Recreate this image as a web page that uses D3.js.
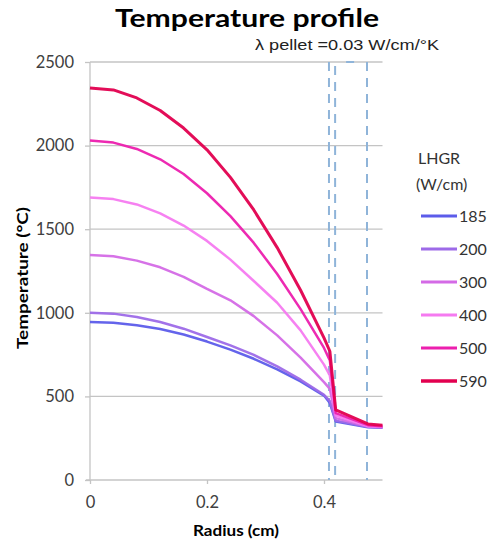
<!DOCTYPE html>
<html><head><meta charset="utf-8">
<script src="https://cdn.jsdelivr.net/npm/d3@7"></script>
<style>body{margin:0;background:#fff;}svg{display:block;}</style>
</head><body><svg id="c" width="487" height="549"></svg>
<script>
const radius = [0, 0.04, 0.08, 0.12, 0.16, 0.20, 0.24, 0.28, 0.32, 0.36, 0.40, 0.41, 0.42, 0.475, 0.5];
const seriesNames = ["185", "200", "300", "400", "500", "590"];
const t185 = [945, 940, 925, 903, 870, 828, 780, 725, 662, 590, 505, 460, 350, 316, 312];
const t200 = [1000, 995, 975, 945, 905, 855, 805, 748, 680, 600, 510, 472, 355, 318, 314];
const t300 = [1345, 1338, 1312, 1272, 1215, 1143, 1075, 980, 865, 732, 585, 545, 370, 320, 316];
const t400 = [1690, 1680, 1648, 1595, 1522, 1430, 1318, 1190, 1060, 895, 690, 625, 385, 322, 318];
const t500 = [2030, 2018, 1980, 1918, 1830, 1715, 1578, 1418, 1232, 1022, 790, 715, 400, 328, 322];
const t590 = [2345, 2333, 2285, 2210, 2105, 1975, 1810, 1615, 1390, 1135, 850, 770, 420, 335, 328];
const seriesValues = [t185, t200, t300, t400, t500, t590];
const colors = ["#5c5cea", "#9d6ae8", "#d46ae6", "#f57af0", "#ec1fae", "#e2004f"];
const yTicks = [0, 500, 1000, 1500, 2000, 2500];
const xTicks = [0, 0.2, 0.4];
const xTickLabels = ["0", "0.2", "0.4"];
const boundaries = [0.4085, 0.419, 0.4735];

const svg = d3.select("#c");
const x = d3.scaleLinear().domain([0, 0.5]).range([90, 382.5]);
const y = d3.scaleLinear().domain([0, 2500]).range([480, 62]);
const FONT = "Lato, 'Open Sans', sans-serif";

// gridlines
svg.append("g").selectAll("line").data(yTicks.filter(d => d > 0)).join("line")
  .attr("x1", x(0)).attr("x2", x(0.5)).attr("y1", d => y(d)).attr("y2", d => y(d))
  .attr("stroke", "#c4c4c4").attr("stroke-width", 1.3);

// y axis
const ya = svg.append("g").attr("transform", `translate(${x(0)},0)`)
  .call(d3.axisLeft(y).tickValues(yTicks).tickSize(5).tickPadding(11).tickFormat(d3.format("d")));
ya.select(".domain").attr("stroke", "#c4c4c4").attr("stroke-width", 1.3).attr("d", `M0,${y(0)}V${y(2500)}`);
ya.selectAll(".tick line").attr("stroke", "#c4c4c4").attr("stroke-width", 1.3);
ya.selectAll("text").attr("font-family", FONT).attr("font-size", 16.5).attr("fill", "#404040");

// x axis
const xa = svg.append("g").attr("transform", `translate(0,${y(0)})`)
  .call(d3.axisBottom(x).tickValues(xTicks).tickSize(4).tickPadding(12).tickFormat((d, i) => xTickLabels[i]));
xa.select(".domain").attr("stroke", "#c4c4c4").attr("stroke-width", 1.3).attr("d", `M${x(0) - 4},0H${x(0.5)}`);
xa.selectAll(".tick line").attr("stroke", "#c4c4c4").attr("stroke-width", 1.3);
xa.selectAll("text").attr("font-family", FONT).attr("font-size", 16.5).attr("fill", "#404040");

// boundary dashed lines
svg.append("g").selectAll("line").data(boundaries).join("line")
  .attr("x1", d => x(d)).attr("x2", d => x(d)).attr("y1", y(2500)).attr("y2", y(0))
  .attr("stroke", "#8fb4d9").attr("stroke-width", 2)
  .attr("stroke-dasharray", "9,7")
  .attr("stroke-dashoffset", (d, i) => i === 1 ? -4 : 0);
svg.append("line")
  .attr("x1", x(boundaries[1])).attr("x2", x(boundaries[2])).attr("y1", y(2500)).attr("y2", y(2500))
  .attr("stroke", "#8fb4d9").attr("stroke-width", 2).attr("stroke-dasharray", "0,11,8,100");

// series lines
const line = d3.line().x((d, i) => x(radius[i])).y(d => y(d));
svg.append("g").selectAll("path").data(seriesValues).join("path")
  .attr("d", d => line(d)).attr("fill", "none")
  .attr("stroke", (d, i) => colors[i]).attr("stroke-width", (d, i) => i === 5 ? 3 : 2.5)
  .attr("stroke-linejoin", "round").attr("stroke-opacity", 0.95);

// titles
svg.append("text").attr("x", 247).attr("y", 27).attr("text-anchor", "middle")
  .attr("font-family", FONT).attr("font-weight", "bold").attr("font-size", 25)
  .attr("textLength", 264).attr("lengthAdjust", "spacingAndGlyphs")
  .text("Temperature profile");
svg.append("text").attr("x", 347).attr("y", 50).attr("text-anchor", "middle")
  .attr("font-family", "'Liberation Sans', Arial, sans-serif").attr("font-size", 15.5).attr("fill", "#222")
  .attr("textLength", 184).attr("lengthAdjust", "spacingAndGlyphs")
  .text("λ pellet =0.03 W/cm/°K");
svg.append("text").attr("x", 236).attr("y", 536).attr("text-anchor", "middle")
  .attr("font-family", FONT).attr("font-weight", "bold").attr("font-size", 15)
  .attr("textLength", 86).attr("lengthAdjust", "spacingAndGlyphs")
  .text("Radius (cm)");
svg.append("text").attr("transform", "translate(28,278) rotate(-90)").attr("text-anchor", "middle")
  .attr("font-family", FONT).attr("font-weight", "bold").attr("font-size", 15)
  .attr("textLength", 142).attr("lengthAdjust", "spacingAndGlyphs")
  .text("Temperature (°C)");

// legend
const lg = svg.append("g");
lg.append("text").attr("x", 418).attr("y", 164).attr("font-family", FONT)
  .attr("font-size", 16).attr("fill", "#333").text("LHGR");
lg.append("text").attr("x", 416).attr("y", 190).attr("font-family", FONT)
  .attr("font-size", 16).attr("fill", "#333").text("(W/cm)");
const items = lg.selectAll("g.item").data(seriesNames).join("g").attr("class", "item")
  .attr("transform", (d, i) => `translate(0,${216 + i * 33})`);
items.append("line").attr("x1", 421).attr("x2", 457).attr("y1", 0).attr("y2", 0)
  .attr("stroke", (d, i) => colors[i]).attr("stroke-width", (d, i) => i === 5 ? 3.5 : 3);
items.append("text").attr("x", 459).attr("y", 0).attr("dy", "0.35em")
  .attr("font-family", FONT).attr("font-size", 16).attr("fill", "#333")
  .text(d => d);
</script></body></html>
